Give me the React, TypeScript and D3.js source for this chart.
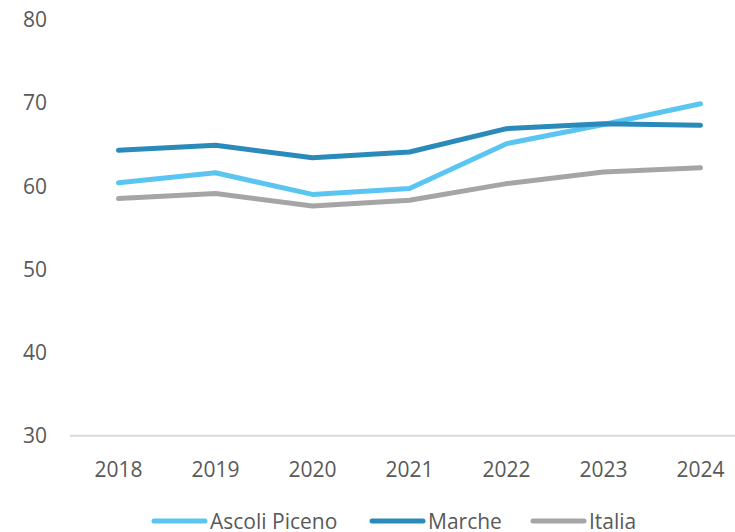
import React from "react";
import * as d3 from "d3";

const years = ["2018", "2019", "2020", "2021", "2022", "2023", "2024"];
const ascoli = [60.4, 61.6, 59.0, 59.7, 65.1, 67.4, 69.9];
const marche = [64.3, 64.9, 63.4, 64.1, 66.9, 67.5, 67.3];
const italia = [58.5, 59.1, 57.6, 58.3, 60.3, 61.7, 62.2];
const yTicks = [30, 40, 50, 60, 70, 80];

const seriesNames = ["Ascoli Piceno", "Marche", "Italia"];
const seriesColors = ["#5BC5F2", "#2A8ABA", "#A5A5A5"];

export default function App() {
  const W = 735, H = 532;
  const x = d3.scaleBand<string>().domain(years).range([70, 70 + 97 * 7]);
  const y = d3.scaleLinear().domain([30, 80]).range([435.7, 19.7]);
  const line = d3
    .line<number>()
    .x((_, i) => (x(years[i]) as number) + x.bandwidth() / 2)
    .y((d) => y(d));
  const all = [ascoli, marche, italia];
  const font = "'Source Sans Pro', 'Open Sans', sans-serif";
  const legendX = [152, 370, 531];
  return (
    <svg
      width={W}
      height={H}
      style={{ position: "absolute", left: 0, top: 0 }}
      fontFamily={font}
    >
      <rect width={W} height={H} fill="#fff" />
      <line x1={70} x2={W} y1={y(30)} y2={y(30)} stroke="#D9D9D9" strokeWidth={2} />
      {yTicks.map((t) => (
        <text key={t} x={47} y={y(t) + 7.5} textAnchor="end" fontSize={21} fill="#595959">
          {t}
        </text>
      ))}
      {years.map((yr) => (
        <text
          key={yr}
          x={(x(yr) as number) + x.bandwidth() / 2}
          y={476.5}
          textAnchor="middle"
          fontSize={21}
          fill="#595959"
        >
          {yr}
        </text>
      ))}
      {[2, 0, 1].map((i) => (
        <path
          key={i}
          d={line(all[i]) || ""}
          fill="none"
          stroke={seriesColors[i]}
          strokeWidth={5}
          strokeLinecap="round"
          strokeLinejoin="round"
        />
      ))}
      {seriesNames.map((n, i) => (
        <g key={n}>
          <line
            x1={legendX[i] + 2}
            x2={legendX[i] + 53}
            y1={521}
            y2={521}
            stroke={seriesColors[i]}
            strokeWidth={5}
            strokeLinecap="round"
          />
          <text x={legendX[i] + 58} y={528.5} fontSize={21} fill="#595959">
            {n}
          </text>
        </g>
      ))}
    </svg>
  );
}
